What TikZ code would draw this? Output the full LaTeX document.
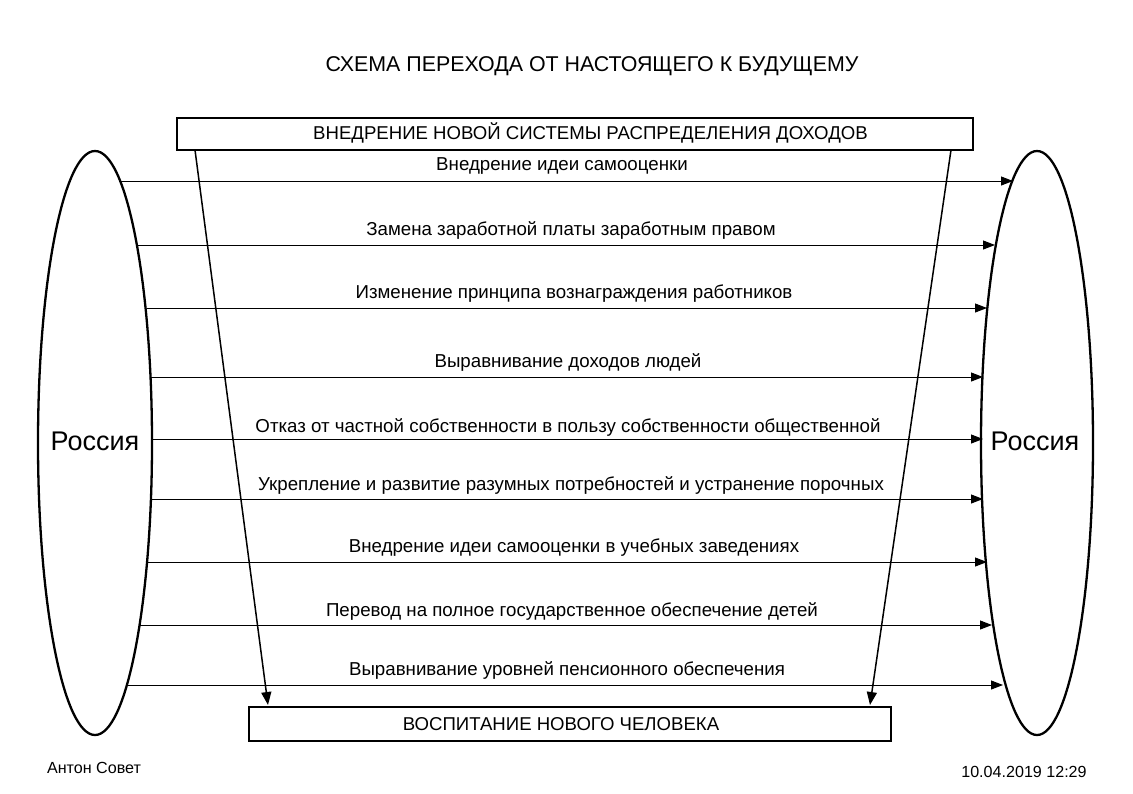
\documentclass[tikz,border=0pt]{standalone}
\usepackage{fontspec}
\setmainfont{Liberation Sans}
\usetikzlibrary{arrows.meta}
\tikzset{
  boxn/.style={draw, line width=2pt, inner sep=0pt},
  harrow/.style={line width=1pt, -{Triangle[length=12pt,width=9pt]}},
  darrow/.style={line width=1.5pt, -{Triangle[length=13pt,width=10pt]}},
  lbl/.style={font=\fontsize{18.7}{21}\selectfont, inner sep=0pt},
  boxtxt/.style={font=\fontsize{18.6}{21}\selectfont, inner sep=0pt},
  rus/.style={font=\fontsize{27}{30}\selectfont, inner sep=0pt},
  foot/.style={font=\fontsize{16.1}{18}\selectfont, inner sep=0pt},
}
\begin{document}
\begin{tikzpicture}[x=1pt,y=-1pt]
\useasboundingbox (0,0) rectangle (1133,793);
% title
\node[font=\fontsize{21.4}{24}\selectfont, inner sep=0pt] (title) at (592,66) {СХЕМА ПЕРЕХОДА ОТ НАСТОЯЩЕГО К БУДУЩЕМУ};
% ellipses
\draw[line width=2.3pt] (95,443) ellipse [x radius=57, y radius=292];
\node[rus] (lr) at (95,441) {Россия};
\draw[line width=2.3pt] (1037,443) ellipse [x radius=56, y radius=292];
\node[rus] (rr) at (1035,441) {Россия};
% boxes
\node[boxn, minimum width=796pt, minimum height=32pt] (top) at (575,134) {};
\node[boxtxt] (toptxt) at (590.5,133) {ВНЕДРЕНИЕ НОВОЙ СИСТЕМЫ РАСПРЕДЕЛЕНИЯ ДОХОДОВ};
\node[boxn, minimum width=642pt, minimum height=34pt] (bot) at (570,724) {};
\node[boxtxt] (bottxt) at (561,724) {ВОСПИТАНИЕ НОВОГО ЧЕЛОВЕКА};
% diagonal arrows
\coordinate (ts1) at (195,150);
\coordinate (ts2) at (951,150);
\coordinate (be1) at (268,705);
\coordinate (be2) at (870,705);
\draw[darrow] (ts1) -- (be1);
\draw[darrow] (ts2) -- (be2);
% horizontal arrow endpoints
\coordinate (l1) at (120,181);  \coordinate (r1) at (1013,181);
\coordinate (l2) at (137,245);  \coordinate (r2) at (995,245);
\coordinate (l3) at (147,308);  \coordinate (r3) at (987,308);
\coordinate (l4) at (151,377);  \coordinate (r4) at (983,377);
\coordinate (l5) at (152,439);  \coordinate (r5) at (983,439);
\coordinate (l6) at (151,499);  \coordinate (r6) at (983,499);
\coordinate (l7) at (147,562);  \coordinate (r7) at (987,562);
\coordinate (l8) at (140,625);  \coordinate (r8) at (992,625);
\coordinate (l9) at (128,685);  \coordinate (r9) at (1003,685);
\foreach \i in {1,...,9} { \draw[harrow] (l\i) -- (r\i); }
% labels
\node[lbl] (t1) at (562,166) {Внедрение идеи самооценки};
\node[lbl] (t2) at (571,230) {Замена заработной платы заработным правом};
\node[lbl] (t3) at (574,294) {Изменение принципа вознаграждения работников};
\node[lbl] (t4) at (568,362) {Выравнивание доходов людей};
\node[lbl] (t5) at (568,427) {Отказ от частной собственности в пользу собственности общественной};
\node[lbl] (t6) at (571,485) {Укрепление и развитие разумных потребностей и устранение порочных};
\node[lbl] (t7) at (574,548) {Внедрение идеи самооценки в учебных заведениях};
\node[lbl] (t8) at (572,611) {Перевод на полное государственное обеспечение детей};
\node[lbl] (t9) at (567,670) {Выравнивание уровней пенсионного обеспечения};
% footer
\node[foot] (auth) at (94,768) {Антон Совет};
\node[foot] (date) at (1024,772) {10.04.2019 12:29};
\end{tikzpicture}
\end{document}
